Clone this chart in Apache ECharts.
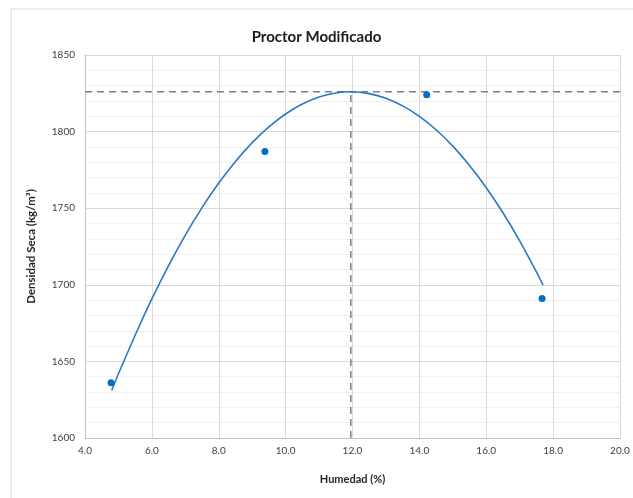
<!DOCTYPE html>
<html>
<head>
<meta charset="utf-8">
<script src="https://cdn.jsdelivr.net/npm/echarts@6/dist/echarts.min.js"></script>
<style>html,body{margin:0;padding:0;background:#fff;}#c{width:633px;height:498px;}</style>
</head>
<body>
<div id="c"></div>
<script>
// Measured points (Humedad %, Densidad seca kg/m3)
const pointX = [4.78, 9.38, 14.22, 17.67];
const pointY = [1636, 1787, 1824, 1691];
// Trend curve
const curveX = [4.8, 5.0, 5.5, 6.0, 6.5, 7.0, 7.5, 8.0, 8.5, 9.0, 9.5, 10.0, 10.5, 11.0, 11.5, 11.95, 12.5, 13.0, 13.5, 14.0, 14.5, 15.0, 15.5, 16.0, 16.5, 17.0, 17.5, 17.7];
const curveY = [1631.0, 1641.9, 1667.1, 1690.8, 1712.5, 1732.4, 1750.4, 1766.4, 1780.5, 1792.8, 1803.1, 1811.5, 1818.0, 1822.6, 1825.2, 1826.0, 1824.8, 1821.8, 1816.8, 1810.0, 1801.2, 1790.5, 1777.9, 1763.4, 1747.0, 1728.7, 1708.5, 1699.8];
// Optimum
const optX = 11.95;
const optY = 1826;
const xTicks = [4, 20, 2];
const yTicks = [1600, 1850, 50];

const font = 'Lato, "DejaVu Sans", sans-serif';
const chart = echarts.init(document.getElementById('c'), null, {renderer: 'canvas'});
const zip = (a, b) => a.map((v, i) => [v, b[i]]);
chart.setOption({
  animation: false,
  backgroundColor: '#fff',
  graphic: [{
    type: 'rect', shape: {x: 11, y: 9, width: 650, height: 520},
    style: {fill: 'none', stroke: '#d9d9d9', lineWidth: 1}, z: -10
  }],
  title: {
    text: 'Proctor Modificado', left: 'center', top: 25,
    textStyle: {fontFamily: font, fontSize: 15, fontWeight: 'bold', color: '#1a1a1a'}
  },
  grid: {left: 85, right: 13, top: 55, bottom: 60},
  xAxis: {
    type: 'value', min: xTicks[0], max: xTicks[1], interval: xTicks[2],
    name: 'Humedad (%)', nameLocation: 'middle', nameGap: 36,
    nameTextStyle: {fontFamily: font, fontSize: 11, fontWeight: 'bold', color: '#262626'},
    axisLine: {show: true, lineStyle: {color: '#bfbfbf'}},
    axisTick: {show: false},
    axisLabel: {fontFamily: font, fontSize: 10, color: '#404040', margin: 8, formatter: v => v.toFixed(1)},
    splitLine: {show: true, lineStyle: {color: '#d9d9d9', width: 1}}
  },
  yAxis: {
    type: 'value', min: yTicks[0], max: yTicks[1], interval: yTicks[2],
    name: 'Densidad Seca (kg/m³)', nameLocation: 'middle', nameGap: 48,
    nameTextStyle: {fontFamily: font, fontSize: 11.5, fontWeight: 'bold', color: '#262626'},
    axisLine: {show: true, lineStyle: {color: '#bfbfbf'}},
    axisTick: {show: false},
    axisLabel: {fontFamily: font, fontSize: 10, color: '#404040', margin: 10, formatter: v => String(v)},
    splitLine: {show: true, lineStyle: {color: '#d9d9d9', width: 1}},
    minorTick: {show: false, splitNumber: 5},
    minorSplitLine: {show: true, lineStyle: {color: '#f0f0f0', width: 1}}
  },
  series: [
    {
      type: 'line', data: [[xTicks[0], optY], [xTicks[1], optY]], symbol: 'none',
      lineStyle: {color: '#7f7f7f', width: 1.5, type: [7, 5]}, z: 3
    },
    {
      type: 'line', data: [[optX, yTicks[0]], [optX, optY]], symbol: 'none',
      lineStyle: {color: '#7f7f7f', width: 1.5, type: [7, 5]}, z: 3
    },
    {
      type: 'line', data: zip(curveX, curveY), smooth: 0.25, symbol: 'none',
      lineStyle: {color: '#2a78c6', width: 1.6}, z: 4
    },
    {
      type: 'scatter', data: zip(pointX, pointY), symbol: 'circle', symbolSize: 7,
      itemStyle: {color: '#0070c0', opacity: 1}, z: 5
    }
  ]
});
</script>
</body>
</html>
